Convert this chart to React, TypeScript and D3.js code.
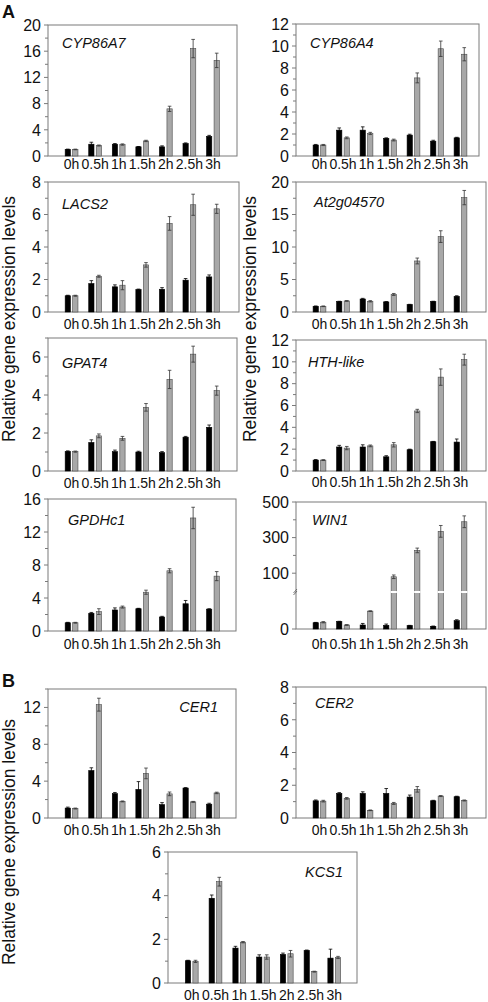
import React from 'react';
import * as d3 from 'd3';

const times = ['0h', '0.5h', '1h', '1.5h', '2h', '2.5h', '3h'];
const series = ['control', 'treated'];

// CYP86A7
const cyp86a7Ctrl = [1.0, 1.8, 1.8, 1.4, 1.4, 1.9, 3.0];
const cyp86a7CtrlErr = [0.05, 0.3, 0.1, 0.05, 0.15, 0.1, 0.15];
const cyp86a7Trt = [1.0, 1.6, 1.75, 2.3, 7.2, 16.4, 14.6];
const cyp86a7TrtErr = [0.05, 0.08, 0.1, 0.1, 0.4, 1.4, 1.1];
// CYP86A4
const cyp86a4Ctrl = [1.0, 2.35, 2.35, 1.6, 1.9, 1.35, 1.65];
const cyp86a4CtrlErr = [0.05, 0.2, 0.3, 0.05, 0.08, 0.08, 0.05];
const cyp86a4Trt = [1.0, 1.65, 2.05, 1.45, 7.1, 9.75, 9.25];
const cyp86a4TrtErr = [0.05, 0.08, 0.1, 0.08, 0.45, 0.7, 0.6];
// LACS2
const lacs2Ctrl = [1.0, 1.75, 1.55, 1.38, 1.4, 1.96, 2.16];
const lacs2CtrlErr = [0.03, 0.18, 0.12, 0.03, 0.1, 0.1, 0.12];
const lacs2Trt = [1.0, 2.2, 1.65, 2.9, 5.45, 6.6, 6.35];
const lacs2TrtErr = [0.03, 0.06, 0.28, 0.14, 0.42, 0.65, 0.28];
// At2g04570
const at2gCtrl = [0.88, 1.6, 2.0, 1.55, 1.13, 1.6, 2.4];
const at2gCtrlErr = [0.05, 0.05, 0.1, 0.05, 0.05, 0.05, 0.1];
const at2gTrt = [0.88, 1.7, 1.65, 2.7, 7.85, 11.6, 17.6];
const at2gTrtErr = [0.05, 0.05, 0.1, 0.15, 0.45, 0.9, 1.1];
// GPAT4
const gpat4Ctrl = [1.03, 1.5, 1.02, 1.0, 0.97, 1.78, 2.3];
const gpat4CtrlErr = [0.03, 0.14, 0.08, 0.04, 0.05, 0.04, 0.12];
const gpat4Trt = [1.02, 1.85, 1.72, 3.35, 4.82, 6.15, 4.23];
const gpat4TrtErr = [0.03, 0.1, 0.1, 0.2, 0.48, 0.42, 0.24];
// HTH-like
const hthCtrl = [1.0, 2.2, 2.2, 1.3, 1.95, 2.68, 2.65];
const hthCtrlErr = [0.05, 0.15, 0.2, 0.1, 0.05, 0.03, 0.28];
const hthTrt = [1.0, 2.1, 2.3, 2.4, 5.5, 8.6, 10.2];
const hthTrtErr = [0.04, 0.15, 0.08, 0.2, 0.15, 0.75, 0.5];
// GPDHc1
const gpdhCtrl = [1.0, 2.15, 2.55, 2.7, 1.7, 3.3, 2.65];
const gpdhCtrlErr = [0.05, 0.1, 0.25, 0.05, 0.08, 0.4, 0.05];
const gpdhTrt = [1.0, 2.35, 2.9, 4.7, 7.3, 13.7, 6.65];
const gpdhTrtErr = [0.05, 0.35, 0.12, 0.25, 0.25, 1.3, 0.55];
// WIN1
const win1Ctrl = [1.02, 1.2, 0.65, 0.6, 0.54, 0.43, 1.35];
const win1CtrlErr = [0.05, 0.05, 0.25, 0.2, 0.05, 0.05, 0.15];
const win1Trt = [1.1, 0.65, 2.9, 80, 228, 335, 389];
const win1TrtErr = [0.1, 0.05, 0.05, 10, 13, 33, 33];
// CER1
const cer1Ctrl = [1.08, 5.15, 2.65, 3.1, 1.45, 3.25, 1.5];
const cer1CtrlErr = [0.1, 0.3, 0.12, 0.85, 0.22, 0.05, 0.1];
const cer1Trt = [1.03, 12.3, 1.8, 4.84, 2.62, 1.75, 2.72];
const cer1TrtErr = [0.05, 0.7, 0.05, 0.58, 0.2, 0.05, 0.08];
// CER2
const cer2Ctrl = [1.05, 1.5, 1.5, 1.5, 1.28, 1.05, 1.3];
const cer2CtrlErr = [0.05, 0.05, 0.1, 0.3, 0.12, 0.03, 0.03];
const cer2Trt = [1.03, 1.2, 0.47, 0.89, 1.75, 1.34, 1.07];
const cer2TrtErr = [0.05, 0.05, 0.02, 0.06, 0.17, 0.03, 0.03];
// KCS1
const kcs1Ctrl = [1.02, 3.88, 1.6, 1.19, 1.31, 1.49, 1.14];
const kcs1CtrlErr = [0.02, 0.15, 0.08, 0.1, 0.06, 0.02, 0.41];
const kcs1Trt = [0.99, 4.64, 1.87, 1.19, 1.34, 0.52, 1.17];
const kcs1TrtErr = [0.05, 0.2, 0.03, 0.1, 0.15, 0.02, 0.05];

// WIN1 broken axis tick labels
const win1UpperTicks = [100, 300, 500];
const win1UpperMinor = [200, 400];

const FONT = "'Liberation Sans', Arial, Helvetica, sans-serif";
const FRAME = '#7a7a7a';
const GRAY = '#a8a8a8';

type Spec = {
  gene: string;
  ctrl: number[]; ctrlErr: number[]; trt: number[]; trtErr: number[];
  yMax: number; step: number; minor: number;
  left: number; plotRight: number; frameRight: number; top: number; bottom: number;
  labelX: number; labelY: number; labelAnchor?: string; xLabelY: number;
  broken?: boolean;
};

const L = { left: 48, plotRight: 236.5 };
const R = { left: 296, plotRight: 484 };

const panels: Spec[] = [
  { gene: 'CYP86A7', ctrl: cyp86a7Ctrl, ctrlErr: cyp86a7CtrlErr, trt: cyp86a7Trt, trtErr: cyp86a7TrtErr, yMax: 20, step: 4, minor: 2, ...L, frameRight: 237, top: 25, bottom: 156, labelX: 62, labelY: 48, xLabelY: 169 },
  { gene: 'CYP86A4', ctrl: cyp86a4Ctrl, ctrlErr: cyp86a4CtrlErr, trt: cyp86a4Trt, trtErr: cyp86a4TrtErr, yMax: 12, step: 2, minor: 1, ...R, frameRight: 479, top: 24, bottom: 156, labelX: 310, labelY: 48, xLabelY: 169 },
  { gene: 'LACS2', ctrl: lacs2Ctrl, ctrlErr: lacs2CtrlErr, trt: lacs2Trt, trtErr: lacs2TrtErr, yMax: 8, step: 2, minor: 1, ...L, frameRight: 239, top: 182, bottom: 312, labelX: 62, labelY: 209, xLabelY: 329 },
  { gene: 'At2g04570', ctrl: at2gCtrl, ctrlErr: at2gCtrlErr, trt: at2gTrt, trtErr: at2gTrtErr, yMax: 20, step: 5, minor: 2.5, ...R, frameRight: 486, top: 182, bottom: 312, labelX: 314, labelY: 207, xLabelY: 329 },
  { gene: 'GPAT4', ctrl: gpat4Ctrl, ctrlErr: gpat4CtrlErr, trt: gpat4Trt, trtErr: gpat4TrtErr, yMax: 7, step: 2, minor: 1, ...L, frameRight: 237, top: 338, bottom: 471, labelX: 62, labelY: 368, xLabelY: 488 },
  { gene: 'HTH-like', ctrl: hthCtrl, ctrlErr: hthCtrlErr, trt: hthTrt, trtErr: hthTrtErr, yMax: 12, step: 2, minor: 1, ...R, frameRight: 486, top: 340, bottom: 471, labelX: 308, labelY: 367, xLabelY: 487 },
  { gene: 'GPDHc1', ctrl: gpdhCtrl, ctrlErr: gpdhCtrlErr, trt: gpdhTrt, trtErr: gpdhTrtErr, yMax: 16, step: 4, minor: 2, ...L, frameRight: 236, top: 499, bottom: 631, labelX: 68, labelY: 525, xLabelY: 649 },
  { gene: 'WIN1', ctrl: win1Ctrl, ctrlErr: win1CtrlErr, trt: win1Trt, trtErr: win1TrtErr, yMax: 500, step: 100, minor: 100, ...R, frameRight: 486, top: 502, bottom: 629, labelX: 312, labelY: 525, xLabelY: 649, broken: true },
  { gene: 'CER1', ctrl: cer1Ctrl, ctrlErr: cer1CtrlErr, trt: cer1Trt, trtErr: cer1TrtErr, yMax: 14, step: 4, minor: 2, ...L, frameRight: 236, top: 689, bottom: 818, labelX: 218, labelY: 712, labelAnchor: 'end', xLabelY: 835 },
  { gene: 'CER2', ctrl: cer2Ctrl, ctrlErr: cer2CtrlErr, trt: cer2Trt, trtErr: cer2TrtErr, yMax: 8, step: 2, minor: 1, ...R, frameRight: 486, top: 687, bottom: 818, labelX: 315, labelY: 708, xLabelY: 835 },
  { gene: 'KCS1', ctrl: kcs1Ctrl, ctrlErr: kcs1CtrlErr, trt: kcs1Trt, trtErr: kcs1TrtErr, yMax: 6, step: 2, minor: 1, left: 168, plotRight: 358, frameRight: 357, top: 852, bottom: 983, labelX: 343, labelY: 877, labelAnchor: 'end', xLabelY: 1000 },
];

function Panel({ p }: { p: Spec }) {
  const x = d3.scaleBand<string>().domain(times).range([p.left, p.plotRight]).paddingInner(0).paddingOuter(0.5);
  const sub = d3.scaleBand<string>().domain(series).range([-6.4, 6.4]).paddingInner(0.3);
  const bw = sub.bandwidth();

  let yOf: (v: number) => number;
  let breakY = 0;
  let lowMax = 0;
  const majors: { v: number; y: number; label: string }[] = [];
  const minors: number[] = [];
  if (p.broken) {
    lowMax = 6;
    breakY = 592;
    const yLo = d3.scaleLinear().domain([0, lowMax]).range([p.bottom, breakY]);
    const yHi = d3.scaleLinear().domain([0, p.yMax]).range([breakY - 1, p.top]);
    yOf = (v: number) => (v <= lowMax ? yLo(v) : yHi(v));
    majors.push({ v: 0, y: yLo(0), label: '0' });
    win1UpperTicks.forEach((t) => majors.push({ v: t, y: yHi(t), label: String(t) }));
    win1UpperMinor.forEach((t) => minors.push(yHi(t)));
  } else {
    const y = d3.scaleLinear().domain([0, p.yMax]).range([p.bottom, p.top]);
    yOf = (v: number) => y(v);
    d3.range(0, p.yMax + 1e-9, p.step).forEach((t) => majors.push({ v: t, y: y(t), label: String(t) }));
    d3.range(0, p.yMax + 1e-9, p.minor)
      .filter((t) => Math.abs(t / p.step - Math.round(t / p.step)) > 1e-6)
      .forEach((t) => minors.push(y(t)));
  }

  const bars = times.flatMap((t, i) => [
    { t, s: 'control', v: p.ctrl[i], e: p.ctrlErr[i] },
    { t, s: 'treated', v: p.trt[i], e: p.trtErr[i] },
  ]);

  return (
    <g>
      <rect x={p.left} y={p.top} width={p.frameRight - p.left} height={p.bottom - p.top} fill="none" stroke={FRAME} strokeWidth={1} />
      {majors.map((m) => (
        <g key={'M' + m.v}>
          <line x1={p.left - 4} x2={p.left} y1={m.y} y2={m.y} stroke={FRAME} strokeWidth={1} />
          <text x={p.left - 7} y={m.y} dy="0.36em" textAnchor="end" fontSize={16} fontFamily={FONT} fill="#111">{m.label}</text>
        </g>
      ))}
      {minors.map((yy, i) => (
        <line key={'m' + i} x1={p.left - 3} x2={p.left} y1={yy} y2={yy} stroke={FRAME} strokeWidth={1} />
      ))}
      {p.broken && (
        <g>
          <line x1={p.left - 2.5} x2={p.left + 1} y1={breakY + 3} y2={breakY - 1} stroke="#555" strokeWidth={0.8} />
          <line x1={p.left - 2.5} x2={p.left + 1} y1={breakY + 1} y2={breakY - 3} stroke="#555" strokeWidth={0.8} />
        </g>
      )}
      {bars.map((b) => {
        const cx = (x(b.t) as number) + x.bandwidth() / 2;
        const bx = cx + (sub(b.s) as number);
        const top = yOf(b.v);
        const isC = b.s === 'control';
        const mid = bx + bw / 2;
        const eTop = yOf(b.v + b.e);
        const eBot = yOf(Math.max(b.v - b.e, 0));
        return (
          <g key={b.t + b.s}>
            <rect x={bx} y={top} width={bw} height={p.bottom - top} fill={isC ? '#000' : GRAY} stroke={isC ? '#000' : '#4a4a4a'} strokeWidth={0.6} />
            {p.broken && b.v > lowMax && (
              <line x1={bx - 0.5} x2={bx + bw + 0.5} y1={breakY} y2={breakY} stroke="#fff" strokeWidth={2} />
            )}
            <line x1={mid} x2={mid} y1={eTop} y2={eBot} stroke={isC ? '#000' : '#333'} strokeWidth={0.8} />
            <line x1={mid - 1.8} x2={mid + 1.8} y1={eTop} y2={eTop} stroke={isC ? '#000' : '#333'} strokeWidth={0.8} />
            <line x1={mid - 1.8} x2={mid + 1.8} y1={eBot} y2={eBot} stroke={isC ? '#000' : '#333'} strokeWidth={0.8} />
          </g>
        );
      })}
      {times.map((t) => (
        <text key={'x' + t} x={(x(t) as number) + x.bandwidth() / 2} y={p.xLabelY} textAnchor="middle" fontSize={14} fontFamily={FONT} fill="#111">{t}</text>
      ))}
      <text x={p.labelX} y={p.labelY} textAnchor={p.labelAnchor || 'start'} fontSize={14.5} fontStyle="italic" fontFamily={FONT} fill="#111">{p.gene}</text>
    </g>
  );
}

const yTitle = 'Relative gene expression levels';

export default function App() {
  return (
    <svg width={488} height={1002} viewBox="0 0 488 1002" style={{ position: 'absolute', left: 0, top: 0, background: '#fff' }}>
      <rect x={0} y={0} width={488} height={1002} fill="#fff" />
      <text x={2} y={18} fontSize={18} fontWeight="bold" fontFamily={FONT} fill="#111">A</text>
      <text x={2} y={687} fontSize={18} fontWeight="bold" fontFamily={FONT} fill="#111">B</text>
      <text transform="translate(14.5,319) rotate(-90)" textAnchor="middle" fontSize={17.5} fontFamily={FONT} fill="#111">{yTitle}</text>
      <text transform="translate(256,319) rotate(-90)" textAnchor="middle" fontSize={17.5} fontFamily={FONT} fill="#111">{yTitle}</text>
      <text transform="translate(14.5,842) rotate(-90)" textAnchor="middle" fontSize={17.5} fontFamily={FONT} fill="#111">{yTitle}</text>
      {panels.map((p) => (
        <Panel key={p.gene} p={p} />
      ))}
    </svg>
  );
}
